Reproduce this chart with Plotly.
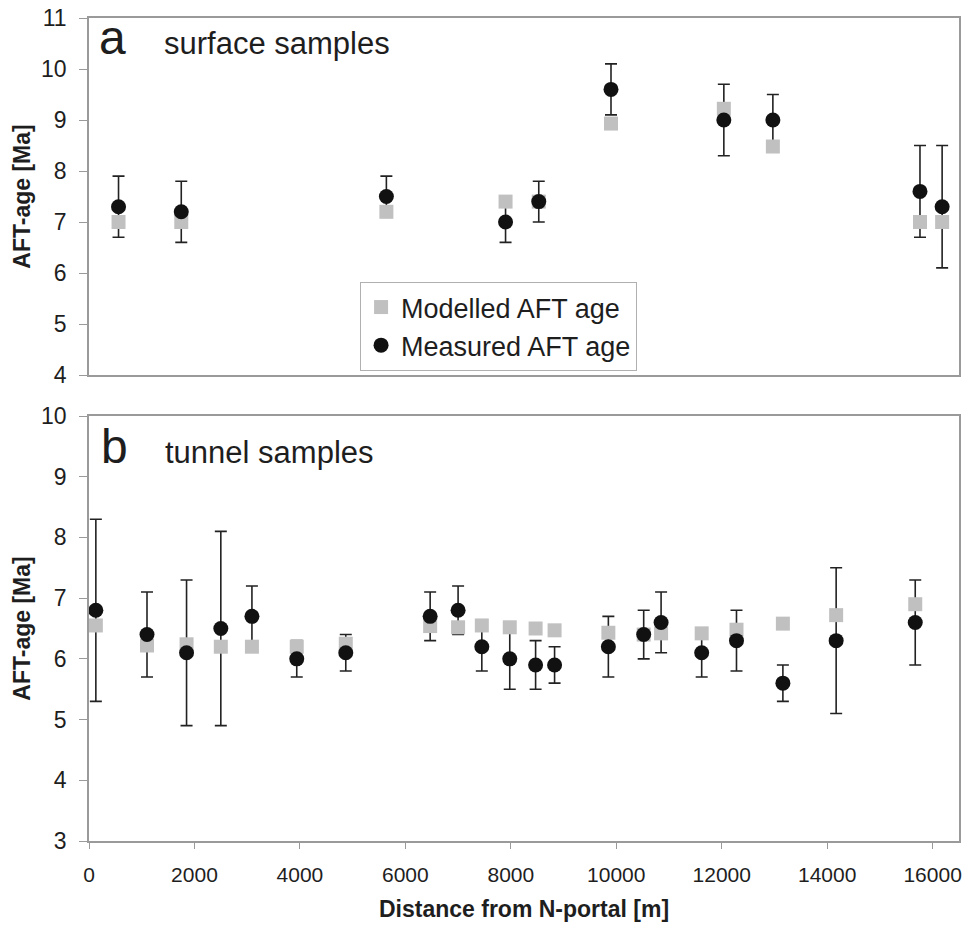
import plotly.graph_objects as go

# ---- Panel a: surface samples ----
surf_x = [560, 1750, 5640, 7900, 8530, 9900, 12040, 12970, 15760, 16180]
surf_meas = [7.3, 7.2, 7.5, 7.0, 7.4, 9.6, 9.0, 9.0, 7.6, 7.3]
surf_err = [0.6, 0.6, 0.4, 0.4, 0.4, 0.5, 0.7, 0.5, 0.9, 1.2]
surf_model = [7.0, 7.0, 7.2, 7.4, 7.4, 8.93, 9.22, 8.48, 7.0, 7.0]

# ---- Panel b: tunnel samples ----
tun_x = [130, 1100, 1850, 2500, 3090, 3940, 4870, 6470, 7000, 7450, 7980, 8470, 8830,
         9850, 10520, 10850, 11620, 12280, 13160, 14170, 15670]
tun_meas = [6.8, 6.4, 6.1, 6.5, 6.7, 6.0, 6.1, 6.7, 6.8, 6.2, 6.0, 5.9, 5.9,
            6.2, 6.4, 6.6, 6.1, 6.3, 5.6, 6.3, 6.6]
tun_err = [1.5, 0.7, 1.2, 1.6, 0.5, 0.3, 0.3, 0.4, 0.4, 0.4, 0.5, 0.4, 0.3,
           0.5, 0.4, 0.5, 0.4, 0.5, 0.3, 1.2, 0.7]
tun_model = [6.55, 6.22, 6.24, 6.2, 6.2, 6.2, 6.25, 6.54, 6.52, 6.55, 6.52, 6.5, 6.47,
             6.43, 6.4, 6.42, 6.42, 6.48, 6.58, 6.72, 6.9]

x_ticks = [0, 2000, 4000, 6000, 8000, 10000, 12000, 14000, 16000]
x_ticktext = ["0", "2000", "4000", "6000", "8000", "10000", "12000", "14000", "16000"]

FONT = "Liberation Sans, Arial, sans-serif"
GRAY_SQ = "#c0c0c0"
DOT = "#111111"
BAR = "#222222"
FRAME = "#9a9a9a"
TXT = "#1e1e1e"

fig = go.Figure()

def add_panel(xs, meas, err, model, xa, ya, show_legend):
    # error bars (drawn below markers)
    fig.add_trace(go.Scatter(
        x=xs, y=meas, mode="markers", xaxis=xa, yaxis=ya,
        marker=dict(size=1, color="rgba(0,0,0,0)"),
        error_y=dict(type="data", array=err, symmetric=True, color=BAR,
                     thickness=1.6, width=6),
        showlegend=False, hoverinfo="skip"))
    fig.add_trace(go.Scatter(
        x=xs, y=model, mode="markers", xaxis=xa, yaxis=ya,
        name="Modelled AFT age",
        marker=dict(symbol="square", size=14, color=GRAY_SQ),
        showlegend=show_legend))
    fig.add_trace(go.Scatter(
        x=xs, y=meas, mode="markers", xaxis=xa, yaxis=ya,
        name="Measured AFT age",
        marker=dict(symbol="circle", size=15, color=DOT),
        showlegend=show_legend))

add_panel(surf_x, surf_meas, surf_err, surf_model, "x", "y", True)
add_panel(tun_x, tun_meas, tun_err, tun_model, "x2", "y2", False)

L, R, T, B = 89, 5, 18, 85
W, H = 967, 926
plot_h = H - T - B
def py(p):
    return (H - B - p) / plot_h
def px(p):
    return (p - L) / (W - L - R)

top_dom = [py(375), 1.0]
bot_dom = [0.0, py(416)]

axis_common = dict(showline=True, mirror=True, linecolor=FRAME, linewidth=1.5,
                   showgrid=False, zeroline=False)

ytitle = dict(text="<b>AFT-age [Ma]</b>", font=dict(size=23, family=FONT, color=TXT),
              standoff=4)
ytick = dict(ticks="outside", ticklen=8, tickcolor=FRAME, tickwidth=1.2,
             tickfont=dict(size=23, family=FONT, color=TXT), ticklabelstandoff=8)

fig.update_layout(
    width=W, height=H,
    margin=dict(l=L, r=R, t=T, b=B),
    paper_bgcolor="white", plot_bgcolor="white",
    font=dict(family=FONT, color=TXT),
    showlegend=True,
    legend=dict(x=px(361), y=py(282), xanchor="left", yanchor="top",
                bgcolor="white", bordercolor="#b0b0b0", borderwidth=1,
                font=dict(size=27, family=FONT, color=TXT),
                tracegroupgap=0),
    xaxis=dict(domain=[0, 1], anchor="y", range=[0, 16500], tickvals=x_ticks,
               showticklabels=False, ticks="", **axis_common),
    yaxis=dict(domain=top_dom, anchor="x", range=[4, 11], dtick=1,
               title=ytitle, **ytick, **axis_common),
    xaxis2=dict(domain=[0, 1], anchor="y2", range=[0, 16500], tickvals=x_ticks,
                ticktext=x_ticktext,
                ticks="outside", ticklen=6, tickcolor=FRAME, tickwidth=1.2,
                tickfont=dict(size=21, family=FONT, color=TXT),
                ticklabelstandoff=8,
                title=dict(text="<b>Distance from N-portal [m]</b>",
                           font=dict(size=23, family=FONT, color=TXT), standoff=16),
                **axis_common),
    yaxis2=dict(domain=bot_dom, anchor="x2", range=[3, 10], dtick=1,
                title=ytitle, **ytick, **axis_common),
)

annots = [
    ("a", 97, 38, 48),
    ("surface samples", 162, 44, 31),
    ("b", 99, 446, 48),
    ("tunnel samples", 163, 452, 31),
]
for text, x0, y0, size in annots:
    fig.add_annotation(text=text, xref="paper", yref="paper", x=px(x0), y=py(y0),
                       xanchor="left", yanchor="middle", showarrow=False,
                       font=dict(size=size, family=FONT, color=TXT))

fig.write_html("out.html")
